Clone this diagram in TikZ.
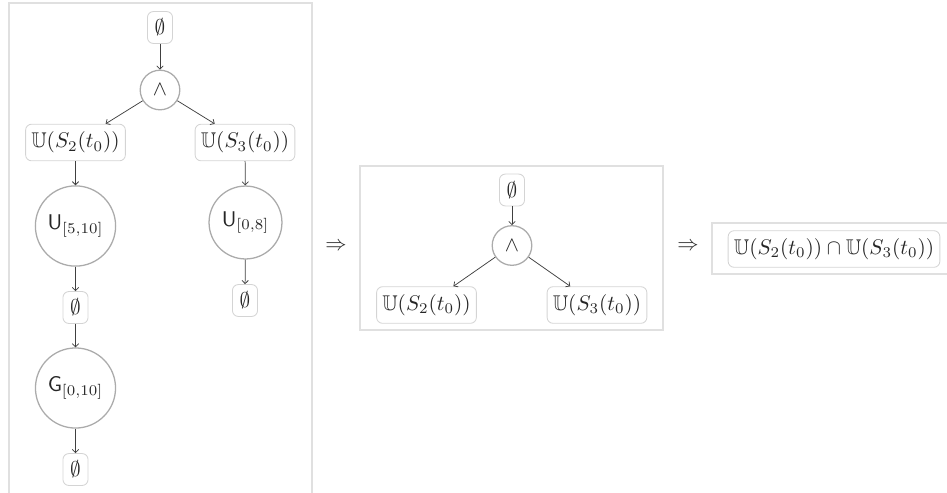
\documentclass[tikz,border=0pt]{standalone}
\usepackage{amsmath,amssymb}
\usetikzlibrary{arrows.meta}

\begin{document}
\begin{tikzpicture}[x=0.47pt,y=-0.47pt,
    every node/.style={text=black!85},
    atom/.style={draw=black!17,rounded corners=2.8pt,inner xsep=2.7pt,minimum height=17.2pt},
    nilbox/.style={atom,minimum height=15pt,minimum width=11.8pt},
    op/.style={circle,draw=black!33,line width=0.6pt,inner sep=3.6pt},
    wedgeop/.style={op,inner sep=1pt,minimum size=18.6pt},
    frame/.style={draw=black!12,line width=0.5pt},
    link/.style={draw=black!75,line width=0.35pt,-{Straight Barb[length=1.5pt,width=3pt]}}]
  \clip (0,0) rectangle (947,492);

  % frames
  \draw[frame] (9,3) rectangle (312,530);
  \draw[frame] (360,166) rectangle (663,330);
  \draw[frame] (712,223) rectangle (980,274);

  % === left: full tree ===
  \node[nilbox] (top)  at (160,27.5) {$\emptyset$};
  \node[wedgeop] (conj) at (160,90) {$\wedge$};
  \node[atom] (uS2)  at (75.5,142.5) {$\mathbb{U}(S_2(t_0))$};
  \node[atom] (uS3)  at (245,142.5) {$\mathbb{U}(S_3(t_0))$};
  \node[op]   (until1) at (75.5,226) {$\mathsf{U}_{[5,10]}$};
  \node[op]   (until2) at (245.5,222.5) {$\mathsf{U}_{[0,8]}$};
  \node[nilbox] (leafA) at (75.5,307.5) {$\emptyset$};
  \node[nilbox] (leafB) at (245,300.5) {$\emptyset$};
  \node[op]   (glob) at (75.5,388) {$\mathsf{G}_{[0,10]}$};
  \node[nilbox] (leafC) at (75.5,469.5) {$\emptyset$};

  \draw[link] (top) -- (conj);
  \draw[link] (conj) -- (uS2);
  \draw[link] (conj) -- (uS3);
  \draw[link] (uS2) -- (until1);
  \draw[link] (uS3) -- (until2);
  \draw[link] (until1) -- (leafA);
  \draw[link] (until2) -- (leafB);
  \draw[link] (leafA) -- (glob);
  \draw[link] (glob) -- (leafC);

  \node (impl1) at (336,247) {$\Rightarrow$};

  % === middle: reduced tree ===
  \node[nilbox] (mtop)  at (512,190) {$\emptyset$};
  \node[wedgeop] (mconj) at (512,245.5) {$\wedge$};
  \node[atom] (muS2)  at (426.5,305) {$\mathbb{U}(S_2(t_0))$};
  \node[atom] (muS3)  at (597,305) {$\mathbb{U}(S_3(t_0))$};

  \draw[link] (mtop) -- (mconj);
  \draw[link] (mconj) -- (muS2);
  \draw[link] (mconj) -- (muS3);

  \node (impl2) at (688,247) {$\Rightarrow$};

  % === right: result ===
  \node[atom] (result) at (834,249) {$\mathbb{U}(S_2(t_0))\cap\mathbb{U}(S_3(t_0))$};
\end{tikzpicture}
\end{document}
